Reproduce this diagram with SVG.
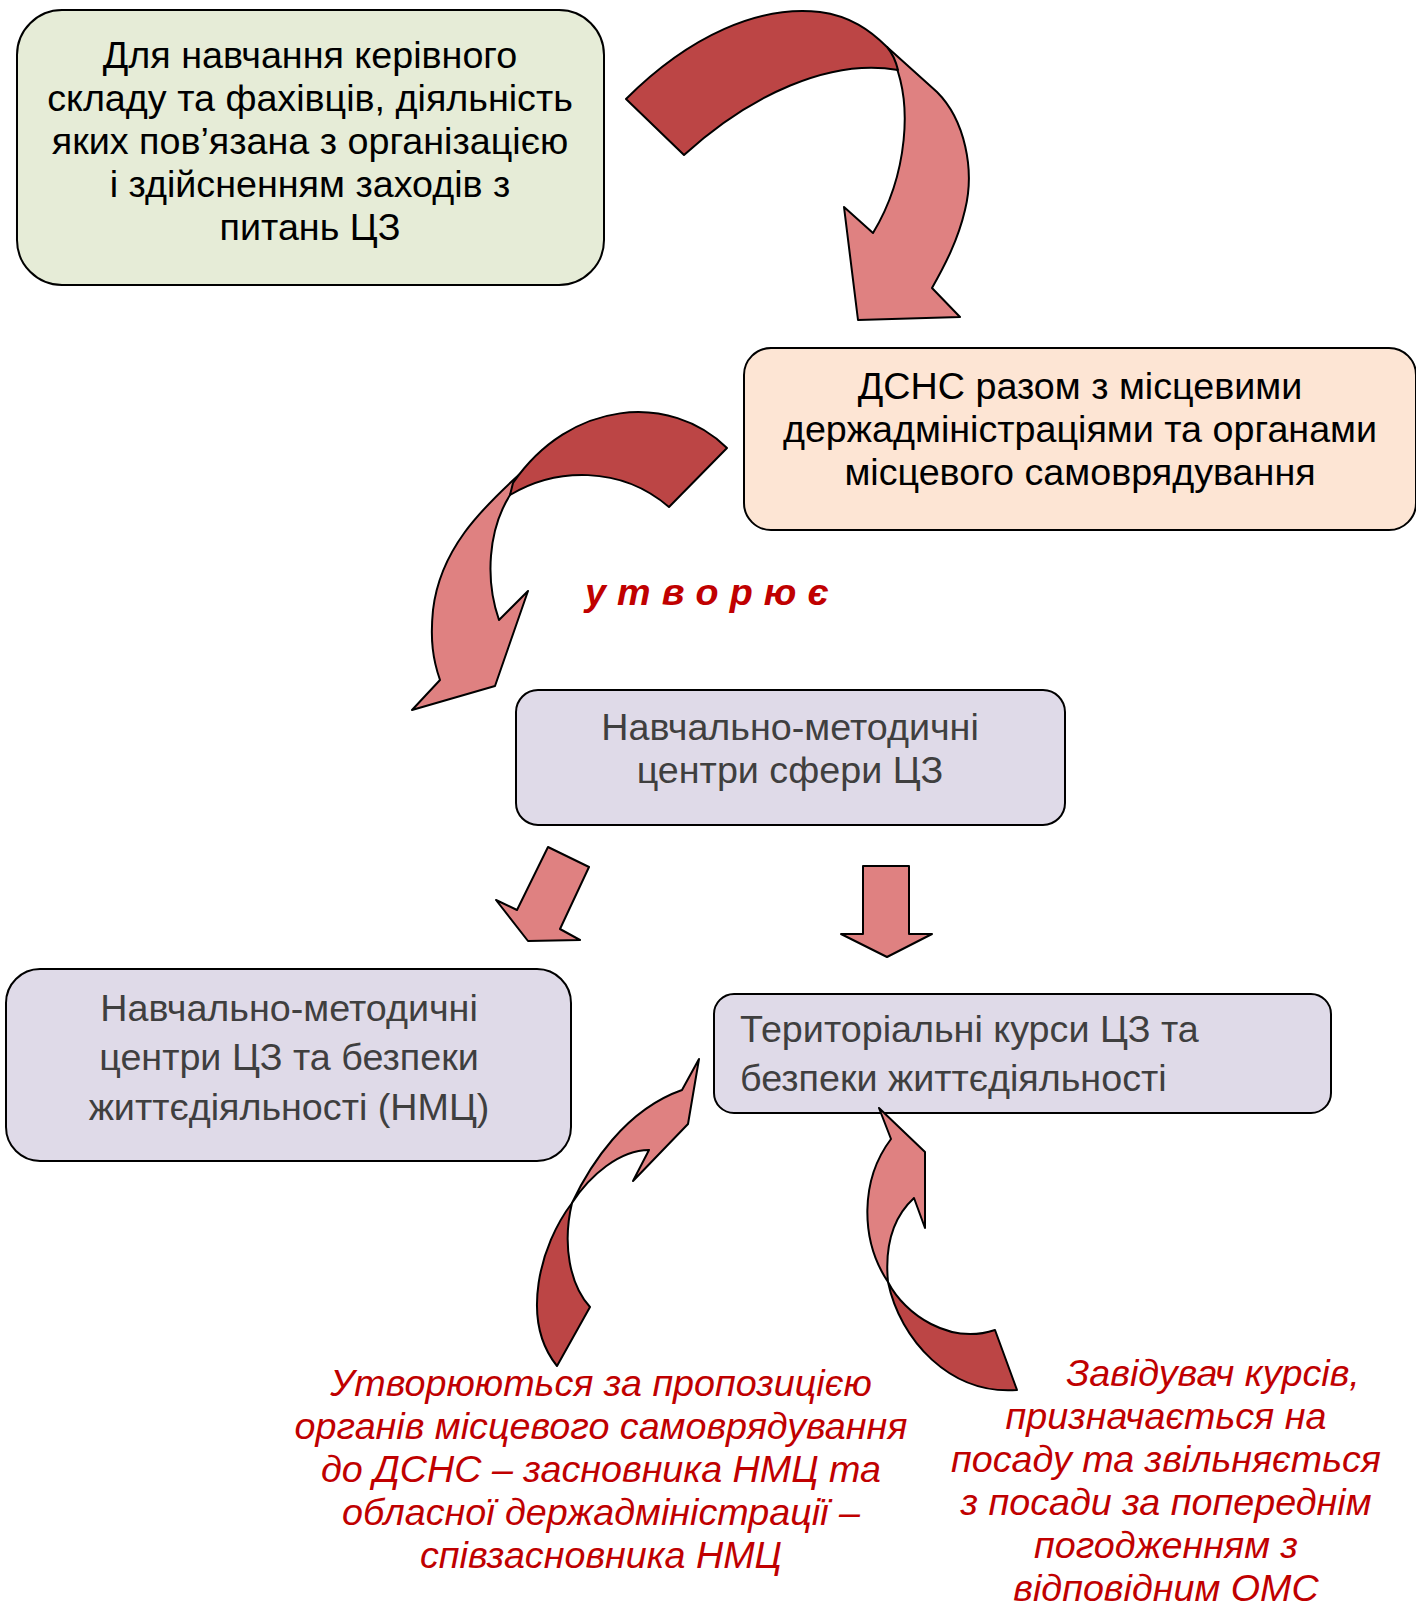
<svg xmlns="http://www.w3.org/2000/svg" width="1416" height="1611" viewBox="0 0 1416 1611">
<style>
.box{stroke:#000;stroke-width:2}
.t{font-family:"Liberation Sans",Arial,sans-serif;font-size:37.7px;text-anchor:middle}
.blk{fill:#000}
.gry{fill:#3f3f3f}
.red{fill:#c00000;font-style:italic}
.dk{fill:#bc4545;stroke:#000;stroke-width:2;stroke-linejoin:round}
.lt{fill:#df8181;stroke:#000;stroke-width:2;stroke-linejoin:round}
</style>
<rect width="1416" height="1611" fill="#fff"/>
<g id="node-training">
<rect class="box" x="17" y="10" width="587" height="275" rx="45" fill="#e6ecd7"/>
<text class="t blk"><tspan x="310" y="68">Для навчання керівного</tspan><tspan x="310" y="111">складу та фахівців, діяльність</tspan><tspan x="310" y="154">яких пов’язана з організацією</tspan><tspan x="310" y="197">і здійсненням заходів з</tspan><tspan x="310" y="240">питань ЦЗ</tspan></text>
</g>
<g id="node-dsns">
<rect class="box" x="744" y="348" width="672" height="182" rx="27" fill="#fde5d4"/>
<text class="t blk"><tspan x="1080" y="399">ДСНС разом з місцевими</tspan><tspan x="1080" y="442">держадміністраціями та органами</tspan><tspan x="1080" y="485">місцевого самоврядування</tspan></text>
</g>
<g id="label-utvoryuye">
<text class="t" x="707" y="605" style="fill:#c00000;font-weight:bold;font-style:italic;letter-spacing:0.3px">у т в о р ю є</text>
</g>
<g id="node-centers">
<rect class="box" x="516" y="690" width="549" height="135" rx="22" fill="#dfdae8"/>
<text class="t gry"><tspan x="790" y="740">Навчально-методичні</tspan><tspan x="790" y="783">центри сфери ЦЗ</tspan></text>
</g>
<g id="node-nmc">
<rect class="box" x="6" y="969" width="565" height="192" rx="34" fill="#dfdae8"/>
<text class="t gry"><tspan x="289" y="1021">Навчально-методичні</tspan><tspan x="289" y="1070">центри ЦЗ та безпеки</tspan><tspan x="289" y="1120">життєдіяльності (НМЦ)</tspan></text>
</g>
<g id="node-courses">
<rect class="box" x="714" y="994" width="617" height="119" rx="20" fill="#dfdae8"/>
<text class="t gry" style="text-anchor:start"><tspan x="740" y="1042">Територіальні курси ЦЗ та</tspan><tspan x="740" y="1091">безпеки життєдіяльності</tspan></text>
</g>
<g id="note-left">
<text class="t red"><tspan x="601" y="1396">Утворюються за пропозицією</tspan><tspan x="601" y="1439">органів місцевого самоврядування</tspan><tspan x="601" y="1482">до ДСНС – засновника НМЦ та</tspan><tspan x="601" y="1525">обласної держадміністрації –</tspan><tspan x="601" y="1568">співзасновника НМЦ</tspan></text>
</g>
<g id="note-right">
<text class="t red"><tspan x="1213" y="1386">Завідувач курсів,</tspan><tspan x="1166" y="1429">призначається на</tspan><tspan x="1166" y="1472">посаду та звільняється</tspan><tspan x="1166" y="1515">з посади за попереднім</tspan><tspan x="1166" y="1558">погодженням з</tspan><tspan x="1166" y="1601">відповідним ОМС</tspan></text>
</g>
<g id="connectors">
<g id="arrow-1">
<path class="lt" d="M887,47 L937,92 C965,120 975,170 965,210 C958,240 945,265 932,288 L960,317 L858,320 L844,207 L873,233 C905,180 918,100 887,47 Z"/>
<path class="dk" d="M626,99 C690,35 760,5 820,12 C850,16 870,30 887,47 C893,54 896,62 898,70 C830,58 750,95 684,155 Z"/>
</g>
<g id="arrow-2">
<path class="lt" d="M522,472 C480,510 440,550 433,610 C430,640 433,660 440,680 L412,710 L495,686 L528,591 L499,620 C485,580 488,530 510,495 Z"/>
<path class="dk" d="M727,448 C670,392 570,400 513,483 L510,495 C555,468 620,465 669,507 Z"/>
</g>
<g id="arrow-3">
<path class="lt" d="M548,847 L589,867 L560,929 L580,940 L528,941 L496,900 L517,910 Z"/>
</g>
<g id="arrow-4">
<path class="lt" d="M863,866 L909,866 L909,934 L932,934 L887,957 L841,934 L863,934 Z"/>
</g>
<g id="arrow-5">
<path class="lt" d="M572,1203 C590,1165 625,1110 682,1090 L699,1059 L688,1124 L633,1181 L649,1150 C620,1150 590,1175 572,1203 Z"/>
<path class="dk" d="M572,1203 C540,1245 520,1320 557,1366 L590,1307 C570,1285 562,1245 572,1203 Z"/>
</g>
<g id="arrow-6">
<path class="lt" d="M891,1139 L879,1108 L925,1152 L925,1228 L914,1198 C890,1220 885,1250 888,1282 C860,1240 860,1180 891,1139 Z"/>
<path class="dk" d="M888,1282 C900,1340 950,1395 1017,1390 L995,1330 C950,1345 905,1315 888,1282 Z"/>
</g>
</g>
</svg>
